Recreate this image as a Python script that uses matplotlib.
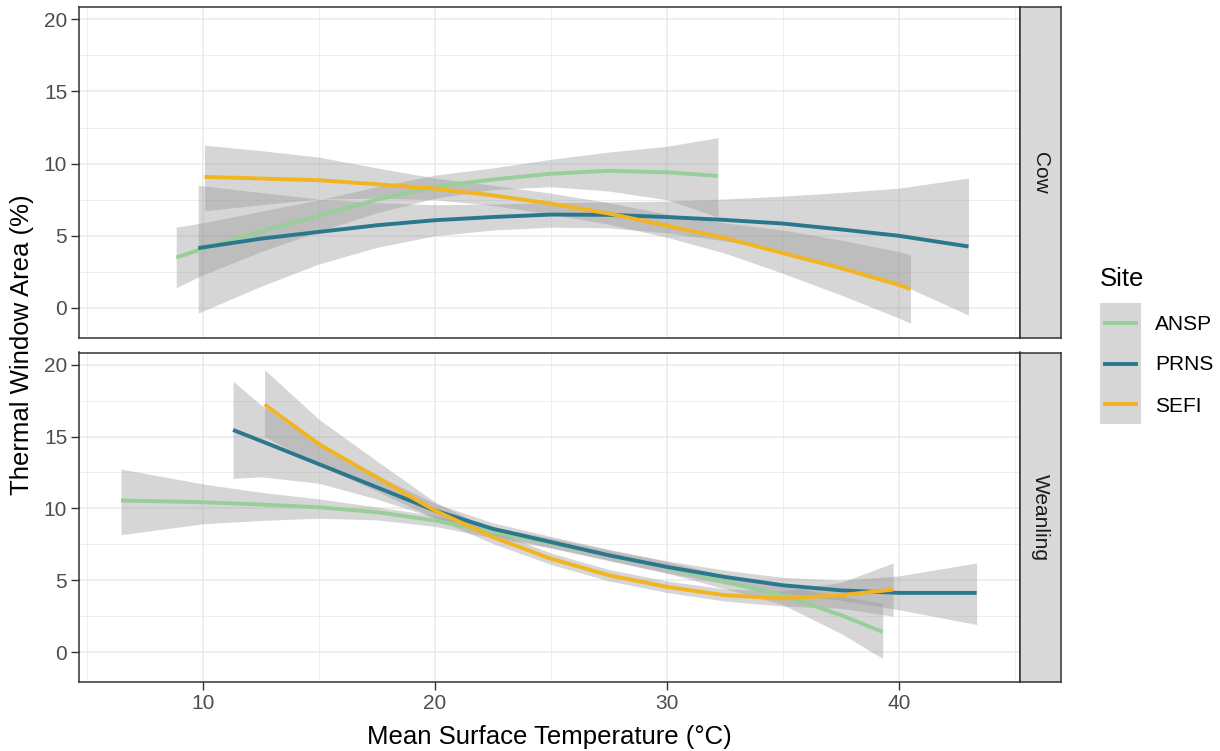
import numpy as np
import matplotlib
matplotlib.use("Agg")
import matplotlib.pyplot as plt
from matplotlib.ticker import MultipleLocator

plt.rcParams['font.family'] = ['Liberation Sans', 'DejaVu Sans']

sites = ["ANSP", "PRNS", "SEFI"]
site_colors = {"ANSP": "#98CF98", "PRNS": "#2B788C", "SEFI": "#F2B420"}
facets = ["Cow", "Weanling"]

# ---- Cow ----
cow_ansp_x = [8.85, 10, 12.5, 15, 17.5, 20, 22.5, 25, 27.5, 30, 32.2]
cow_ansp_fit = [3.5, 4.1, 5.3, 6.4, 7.5, 8.4, 8.9, 9.3, 9.5, 9.4, 9.15]
cow_ansp_lo = [1.4, 2.3, 3.9, 5.3, 6.6, 7.6, 8.2, 8.4, 8.1, 7.5, 6.3]
cow_ansp_hi = [5.6, 5.9, 6.7, 7.5, 8.4, 9.2, 9.7, 10.3, 10.8, 11.2, 11.8]

cow_prns_x = [9.8, 12.5, 15, 17.5, 20, 22.5, 25, 27.5, 30, 32.5, 35, 37.5, 40, 43.0]
cow_prns_fit = [4.15, 4.8, 5.27, 5.73, 6.08, 6.3, 6.47, 6.45, 6.3, 6.1, 5.85, 5.44, 5.0, 4.26]
cow_prns_lo = [-0.35, 1.5, 3.05, 4.2, 5.0, 5.4, 5.6, 5.55, 5.2, 4.65, 3.95, 2.9, 1.7, -0.5]
cow_prns_hi = [8.5, 8.0, 7.55, 7.3, 7.15, 7.2, 7.3, 7.35, 7.4, 7.55, 7.75, 8.0, 8.3, 9.0]

cow_sefi_x = [10.07, 12.5, 15, 17.5, 20, 22.5, 25, 27.5, 30, 32.5, 35, 37.5, 40, 40.5]
cow_sefi_fit = [9.08, 8.97, 8.85, 8.57, 8.27, 7.8, 7.23, 6.54, 5.7, 4.84, 3.8, 2.76, 1.6, 1.3]
cow_sefi_lo = [6.73, 7.15, 7.55, 7.6, 7.5, 7.1, 6.5, 5.8, 4.9, 3.8, 2.4, 0.9, -0.7, -1.06]
cow_sefi_hi = [11.28, 10.9, 10.45, 9.7, 9.0, 8.5, 7.95, 7.3, 6.5, 5.9, 5.4, 4.7, 3.9, 3.68]

# ---- Weanling ----
wea_ansp_x = [6.47, 10, 12.5, 15, 17.5, 20, 22.5, 25, 27.5, 30, 32.5, 35, 37.5, 39.3]
wea_ansp_fit = [10.55, 10.43, 10.27, 10.08, 9.74, 9.16, 8.35, 7.6, 6.75, 5.9, 4.88, 3.96, 2.57, 1.41]
wea_ansp_lo = [8.17, 8.93, 9.16, 9.32, 9.2, 8.75, 7.95, 7.25, 6.4, 5.5, 4.4, 3.3, 1.3, -0.44]
wea_ansp_hi = [12.74, 11.7, 11.12, 10.66, 10.1, 9.5, 8.7, 7.95, 7.1, 6.3, 5.35, 4.6, 3.9, 3.4]

wea_prns_x = [11.3, 12.5, 15, 17.5, 20, 22.5, 25, 27.5, 30, 32.5, 35, 37.5, 40, 43.35]
wea_prns_fit = [15.46, 14.7, 13.08, 11.47, 9.85, 8.58, 7.66, 6.74, 5.93, 5.23, 4.65, 4.3, 4.12, 4.12]
wea_prns_lo = [12.09, 12.2, 11.75, 10.65, 9.35, 8.15, 7.25, 6.35, 5.5, 4.75, 4.1, 3.6, 2.95, 1.92]
wea_prns_hi = [18.85, 17.2, 14.4, 12.3, 10.35, 9.0, 8.05, 7.15, 6.35, 5.7, 5.2, 5.0, 5.3, 6.2]

wea_sefi_x = [12.66, 15, 17.5, 20, 22.5, 25, 27.5, 30, 32.5, 35, 37.5, 39.75]
wea_sefi_fit = [17.23, 14.47, 12.16, 9.85, 8.0, 6.5, 5.35, 4.54, 3.96, 3.73, 3.96, 4.35]
wea_sefi_lo = [15.0, 13.0, 11.2, 9.3, 7.55, 6.1, 4.95, 4.15, 3.55, 3.2, 3.05, 2.5]
wea_sefi_hi = [19.65, 16.2, 13.3, 10.45, 8.45, 6.9, 5.75, 4.95, 4.4, 4.25, 4.85, 6.2]

curves = {
    "Cow": {
        "ANSP": (cow_ansp_x, cow_ansp_fit, cow_ansp_lo, cow_ansp_hi),
        "PRNS": (cow_prns_x, cow_prns_fit, cow_prns_lo, cow_prns_hi),
        "SEFI": (cow_sefi_x, cow_sefi_fit, cow_sefi_lo, cow_sefi_hi),
    },
    "Weanling": {
        "ANSP": (wea_ansp_x, wea_ansp_fit, wea_ansp_lo, wea_ansp_hi),
        "PRNS": (wea_prns_x, wea_prns_fit, wea_prns_lo, wea_prns_hi),
        "SEFI": (wea_sefi_x, wea_sefi_fit, wea_sefi_lo, wea_sefi_hi),
    },
}

W, H = 1220, 751
fig = plt.figure(figsize=(W / 100, H / 100), dpi=100)


def box(x0, y0, x1, y1):
    # pixel box (top-left origin) -> figure fraction rect
    return [x0 / W, 1 - y1 / H, (x1 - x0) / W, (y1 - y0) / H]


panel_boxes = {"Cow": (79, 7, 1020, 338), "Weanling": (79, 352.5, 1020, 682)}
border = "#333333"

for facet in facets:
    x0, y0, x1, y1 = panel_boxes[facet]
    ax = fig.add_axes(box(x0, y0, x1, y1))
    for s in sites:
        xs, fit, lo, hi = curves[facet][s]
        ax.fill_between(xs, lo, hi, color="#999999", alpha=0.4, linewidth=0)
        ax.plot(xs, fit, color=site_colors[s], lw=2.8, solid_capstyle="butt")

    ax.set_xlim(4.66, 45.22)
    ax.set_ylim(-2.08, 20.85)
    ax.xaxis.set_major_locator(MultipleLocator(10))
    ax.xaxis.set_minor_locator(MultipleLocator(5))
    ax.yaxis.set_major_locator(MultipleLocator(5))
    ax.yaxis.set_minor_locator(MultipleLocator(2.5))
    ax.grid(True, which="major", color="#EBEBEB", lw=1.2)
    ax.grid(True, which="minor", color="#EBEBEB", lw=0.6)
    ax.set_axisbelow(True)
    for sp in ax.spines.values():
        sp.set_color(border)
        sp.set_linewidth(1.1)
    ax.tick_params(which="major", length=5.5, width=1, color=border,
                   labelcolor="#4D4D4D", labelsize=15, pad=3)
    ax.tick_params(which="minor", length=0)
    if facet == "Cow":
        ax.tick_params(axis="x", which="both", length=0, labelbottom=False)

    # facet strip
    sax = fig.add_axes(box(x1, y0, x1 + 41, y1))
    sax.set_facecolor("#D9D9D9")
    sax.set_xticks([])
    sax.set_yticks([])
    for sp in sax.spines.values():
        sp.set_color(border)
        sp.set_linewidth(1.1)
    sax.text(0.5, 0.5, facet, rotation=-90, ha="center", va="center",
             fontsize=15, color="#1A1A1A", transform=sax.transAxes)

fig.text(549.5 / W, 1 - 737 / H, "Mean Surface Temperature (\u00b0C)",
         ha="center", va="center", fontsize=18.5)
fig.text(22 / W, 1 - 345 / H, "Thermal Window Area (%)", rotation=90,
         ha="center", va="center", fontsize=18.5)

# legend
fig.text(1100 / W, 1 - 279 / H, "Site", ha="left", va="center", fontsize=18.5)
lax = fig.add_axes(box(1100, 303, 1141, 424))
lax.set_xlim(0, 1)
lax.set_ylim(len(sites), 0)
lax.axis("off")
lax.add_patch(plt.Rectangle((0, 0), 1, len(sites), color="#D6D6D6", zorder=0))
for i, s in enumerate(sites):
    lax.plot([0.12, 0.88], [i + 0.5, i + 0.5], color=site_colors[s], lw=2.8)
    fig.text(1155 / W, 1 - (324 + 41 * i) / H, s, ha="left", va="center",
             fontsize=15, color="black")

fig.savefig("out.png", dpi=100)
